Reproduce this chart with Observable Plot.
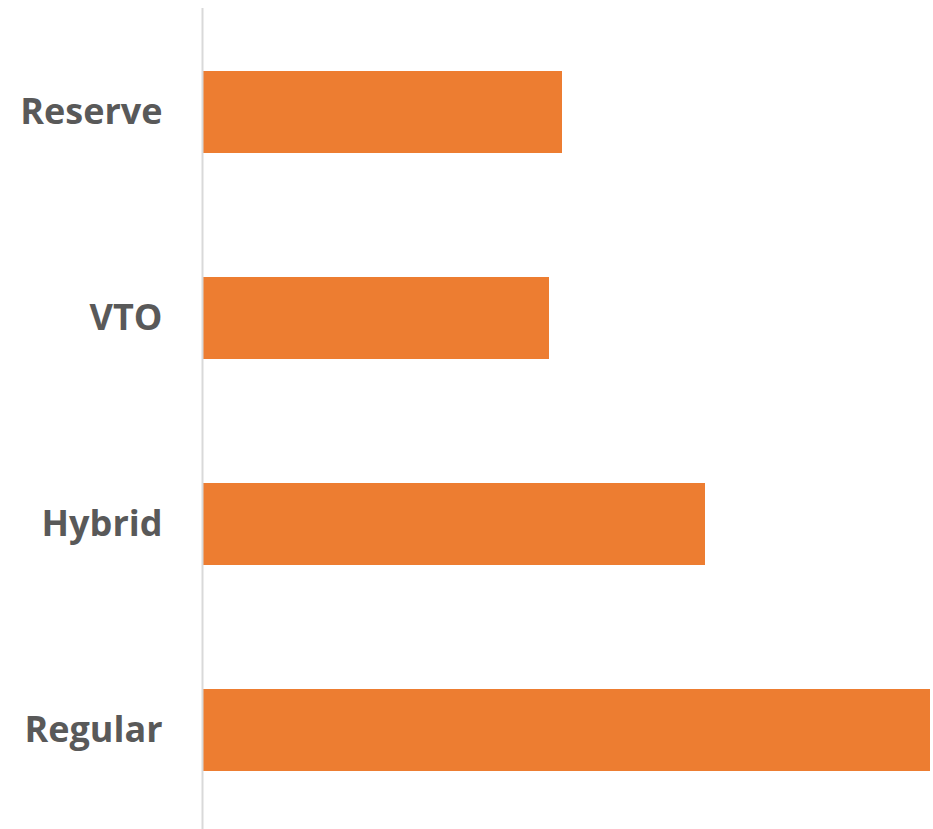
<!DOCTYPE html>
<html>
<head>
<meta charset="utf-8">
<script src="https://cdn.jsdelivr.net/npm/d3@7"></script>
<script src="https://cdn.jsdelivr.net/npm/@observablehq/plot@0.6"></script>
<style>
  html, body { margin: 0; padding: 0; background: #fff; }
</style>
</head>
<body>
<div id="chart"></div>
<script>
const categories = ["Reserve", "VTO", "Hybrid", "Regular"];
const values = [359, 346, 502, 727];

const data = categories.map((c, i) => ({category: c, value: values[i]}));

const chart = Plot.plot({
  width: 933,
  height: 829,
  marginLeft: 203,
  marginRight: 3,
  marginTop: 8,
  marginBottom: 0,
  style: {background: "#fff"},
  x: {domain: [0, 727], axis: null},
  y: {domain: categories, range: [8, 834], paddingInner: 0.6, paddingOuter: 0.3, label: null},
  marks: [
    Plot.barX(data, {x: "value", y: "category", fill: "#ED7D31"}),
    Plot.ruleX([0], {stroke: "#d9d9d9", strokeWidth: 2, dx: -1}),
    Plot.axisY({
      tickSize: 0,
      tickPadding: 41,
      fontSize: 36,
      fontWeight: "bold",
      fontFamily: "Open Sans",
      fill: "#595959",
      dy: 0,
      style: {letterSpacing: "-1.5px"}
    })
  ]
});
document.getElementById("chart").appendChild(chart);
</script>
</body>
</html>
